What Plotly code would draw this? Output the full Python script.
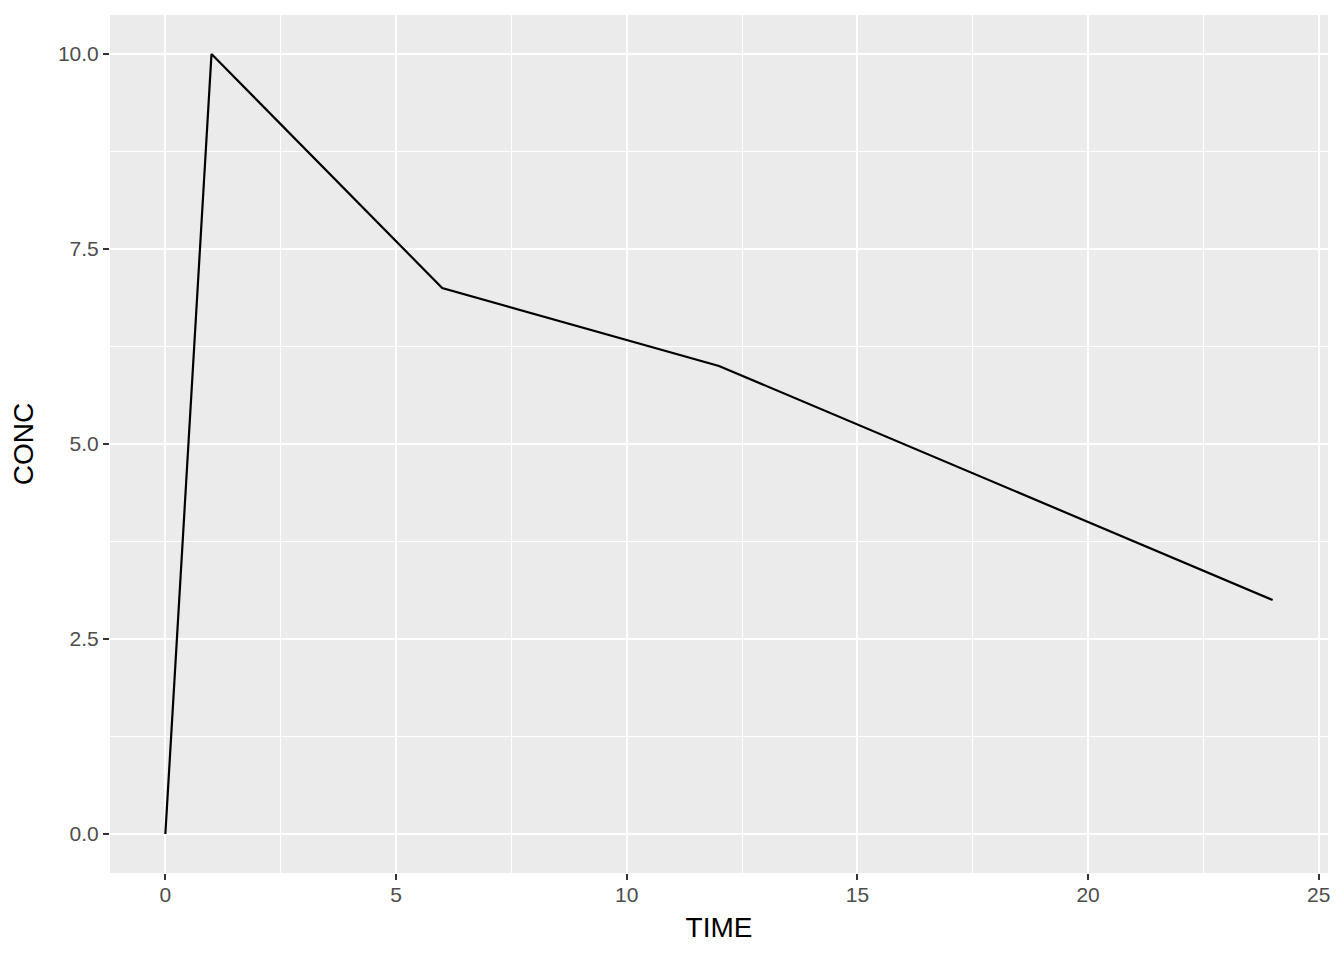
import plotly.graph_objects as go

TIME = [0, 1, 6, 12, 24]
CONC = [0, 10, 7, 6, 3]
x_ticks = [0, 5, 10, 15, 20, 25]
y_ticks = [0.0, 2.5, 5.0, 7.5, 10.0]
y_labels = ["0.0", "2.5", "5.0", "7.5", "10.0"]

FONT = "Liberation Sans, Arial, sans-serif"

fig = go.Figure()
fig.add_trace(go.Scatter(x=TIME, y=CONC, mode="lines",
                         line=dict(color="black", width=2.2), showlegend=False))

axis_common = dict(
    showgrid=True, gridcolor="white", gridwidth=2.2,
    zeroline=False, showline=False,
    ticks="outside", ticklen=6, tickwidth=2, tickcolor="#333333",
    tickfont=dict(family=FONT, size=21, color="#4d4d4d"),
)

fig.update_xaxes(
    range=[-1.2, 25.2], tickvals=x_ticks, ticktext=[str(v) for v in x_ticks],
    title=dict(text="TIME", font=dict(family=FONT, size=28, color="black"), standoff=12),
    minor=dict(tickvals=[2.5, 7.5, 12.5, 17.5, 22.5], showgrid=True, gridcolor="white", gridwidth=1.1, ticks=""),
    ticklabelstandoff=-3,
    **axis_common,
)
fig.update_yaxes(
    range=[-0.5, 10.5], tickvals=y_ticks, ticktext=y_labels,
    title=dict(text="CONC", font=dict(family=FONT, size=28, color="black"), standoff=16),
    minor=dict(tickvals=[1.25, 3.75, 6.25, 8.75], showgrid=True, gridcolor="white", gridwidth=1.1, ticks=""),
    **axis_common,
)

fig.update_layout(
    width=1344, height=960,
    margin=dict(l=110, r=16, t=15, b=87),
    plot_bgcolor="#ebebeb", paper_bgcolor="white",
)

fig.write_html("out.html", config={"displayModeBar": False},
               post_script="document.body.style.margin='0';document.body.style.overflow='hidden';")
